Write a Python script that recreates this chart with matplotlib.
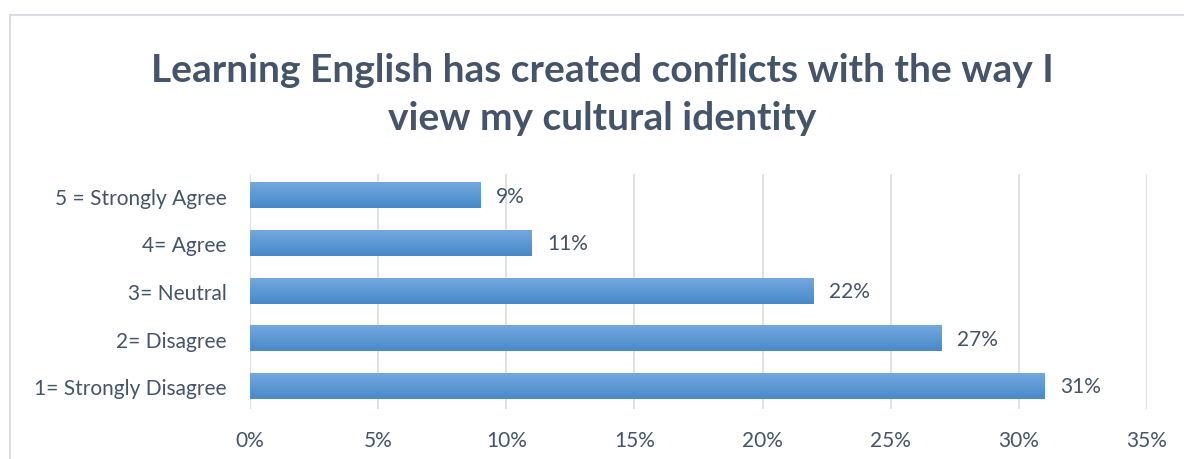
import matplotlib.pyplot as plt
import matplotlib.patches as mpatches
import numpy as np

categories = ["1= Strongly Disagree", "2= Disagree", "3= Neutral", "4= Agree", "5 = Strongly Agree"]
values = [31, 27, 22, 11, 9]
xticks = [0, 5, 10, 15, 20, 25, 30, 35]

plt.rcParams['font.family'] = ['Lato', 'DejaVu Sans']
text_color = "#44546a"

fig = plt.figure(figsize=(11.84, 4.6), dpi=100)
# outer chart frame
fig.patches.append(mpatches.Rectangle((10 / 1184, -0.05), 1.2, 1 - 16 / 460 + 0.05,
                                      transform=fig.transFigure, fill=False,
                                      edgecolor="#d9dde3", linewidth=1.5))

ax = fig.add_axes([250 / 1184, 1 - 410 / 460, (1147 - 250) / 1184, 235 / 460])

y = np.arange(len(categories))
bars = ax.barh(y, values, height=0.53, color="none")

# vertical gradient in each bar
grad = np.linspace(0, 1, 64).reshape(-1, 1)
cmap = plt.matplotlib.colors.LinearSegmentedColormap.from_list("g", ["#4889c9", "#73a8de"])
for b in bars:
    x0, y0 = b.get_x(), b.get_y()
    ax.imshow(grad, extent=[x0, x0 + b.get_width(), y0, y0 + b.get_height()],
              origin="lower", aspect="auto", cmap=cmap, zorder=2)

for yi, v in zip(y, values):
    ax.text(v + 0.6, yi, f"{v}%", va="center", ha="left", fontsize=15, color=text_color)

ax.set_xlim(0, 35)
ax.set_ylim(-0.48, len(categories) - 0.54)
ax.set_xticks(xticks)
ax.set_xticklabels([f"{t}%" for t in xticks])
ax.set_yticks(y)
ax.set_yticklabels(categories)
ax.tick_params(axis="x", length=0, pad=15, labelsize=15, labelcolor=text_color)
ax.tick_params(axis="y", length=0, pad=17, labelsize=15, labelcolor=text_color)
ax.grid(axis="x", color="#dee1e6", linewidth=1.5, zorder=0)
ax.set_axisbelow(True)
for s in ax.spines.values():
    s.set_visible(False)

fig.text(0.509, 1 - 70 / 460, "Learning English has created conflicts with the way I",
         ha="center", va="center", fontsize=28, fontweight="bold", color=text_color)
fig.text(0.509, 1 - 118 / 460, "view my cultural identity",
         ha="center", va="center", fontsize=28, fontweight="bold", color=text_color)

fig.savefig("out.png", dpi=100)
